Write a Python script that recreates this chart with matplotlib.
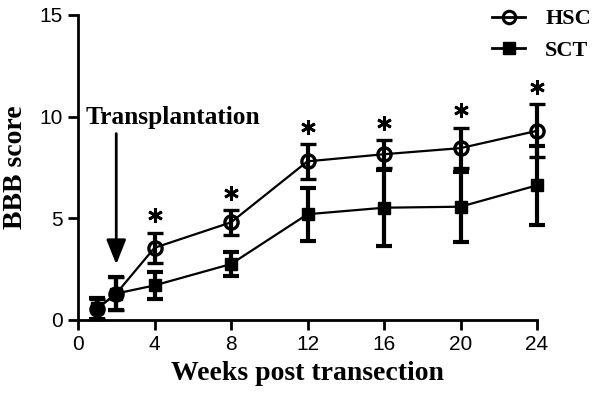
import matplotlib.pyplot as plt
from matplotlib.lines import Line2D

# -----------------------------
# Data
weeks = [1, 2, 4, 8, 12, 16, 20, 24]
hsc_mean = [0.55, 1.3, 3.55, 4.8, 7.8, 8.15, 8.45, 9.3]
hsc_err = [0.5, 0.8, 0.75, 0.6, 0.85, 0.7, 1.0, 1.3]
sct_mean = [0.57, 1.3, 1.7, 2.75, 5.2, 5.52, 5.57, 6.62]
sct_err = [0.5, 0.8, 0.65, 0.6, 1.3, 1.86, 1.72, 1.94]
star_weeks = [4, 8, 12, 16, 20, 24]
x_ticks = [0, 4, 8, 12, 16, 20, 24]
y_ticks = [0, 5, 10, 15]

serif_bold = dict(family='Liberation Serif', weight='bold')

fig = plt.figure(figsize=(6, 4.03), dpi=100)
ax = fig.add_axes([0.13, 0.206, 0.765, 0.757])


def no_clip(container):
    # let bars at the axis edge (week 24) draw past the frame
    data_line, caps, bars = container.lines
    for art in [data_line, *caps, *bars]:
        art.set_clip_on(False)


# -----------------------------
# Series with error bars (HSC circles are hollow, line shows through)
sct = ax.errorbar(weeks, sct_mean, yerr=sct_err, color='black', lw=1.6, marker='s',
                  ms=9, mfc='black', elinewidth=3, capsize=5.5, capthick=3, zorder=3)
hsc = ax.errorbar(weeks, hsc_mean, yerr=hsc_err, color='black', lw=1.6, marker='o',
                  ms=9.5, mfc='none', mew=2.4, elinewidth=3, capsize=5.5, capthick=3,
                  zorder=4)
no_clip(sct)
no_clip(hsc)

# significance stars above the HSC bars
star_x = star_weeks
star_y = [hsc_mean[weeks.index(w)] + hsc_err[weeks.index(w)] + 0.85 for w in star_weeks]
ax.plot(star_x, star_y, ls='none', marker=(6, 2, 0), ms=10.5, mew=2, color='black',
        clip_on=False)

# transplantation arrow
ax.annotate('', xy=(2, 2.6), xytext=(2, 9.3),
            arrowprops=dict(arrowstyle='-|>,head_width=0.6,head_length=1.5',
                            color='black', lw=2))
ax.text(0.4, 9.95, 'Transplantation', ha='left', va='center', fontsize=18.3, **serif_bold)

# -----------------------------
# Axes styling
ax.set_xlim(0, 24)
ax.set_ylim(0, 15)
ax.set_xticks(x_ticks)
ax.set_yticks(y_ticks)
for lab in ax.get_xticklabels() + ax.get_yticklabels():
    lab.set_fontsize(15)
    lab.set_fontfamily('Liberation Sans')
ax.tick_params(direction='out', length=7, width=2, pad=4)
ax.spines['top'].set_visible(False)
ax.spines['right'].set_visible(False)
ax.spines['left'].set_linewidth(2)
ax.spines['bottom'].set_linewidth(2)
ax.set_xlabel('Weeks post transection', fontsize=20, labelpad=5, **serif_bold)
ax.set_ylabel('BBB score', fontsize=20, labelpad=8, **serif_bold)

# -----------------------------
# Legend
handles = [
    Line2D([], [], color='black', lw=2, marker='o', ms=9, mfc='none', mew=2.2),
    Line2D([], [], color='black', lw=2, marker='s', ms=8, mfc='black'),
]
fig.legend(handles, ['HSC', 'SCT'], loc='upper left', bbox_to_anchor=(0.805, 1.0),
           borderaxespad=0, frameon=False,
           prop=dict(family='Liberation Serif', weight='bold', size=16),
           handlelength=1.5, labelspacing=0.5, handletextpad=0.9)

fig.savefig('out.png', dpi=100)
